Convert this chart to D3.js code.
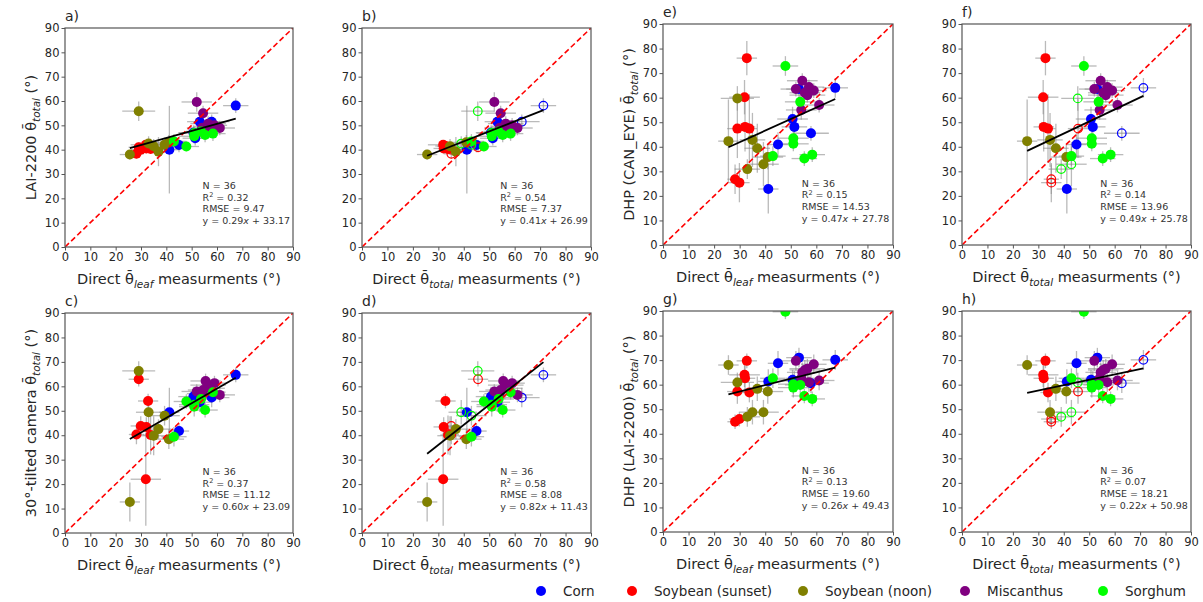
<!DOCTYPE html>
<html>
<head>
<meta charset="utf-8">
<script src="https://cdn.jsdelivr.net/npm/d3@7"></script>
<style>
  body { margin: 0; background: #fff; }
  svg { font-family: "DejaVu Sans", sans-serif; }
</style>
</head>
<body>
<svg width="1203" height="602"></svg>
<script>
// Data

const crops = ['Corn', 'Soybean (sunset)', 'Soybean (noon)', 'Miscanthus', 'Sorghum']
const cropColors = ['#0000ff', '#ff0000', '#808000', '#800080', '#00ff00']
// open (extrapolated) markers of the noon soybean are drawn in green in the original
const openColors = ['#0000ff', '#ff0000', '#00ff00', '#800080', '#00ff00']

// samples: 7 corn, 7 soybean sunset, 7 soybean noon, 8 miscanthus, 7 sorghum
const sampleCrop = [0,0,0,0,0,0,0, 1,1,1,1,1,1,1, 2,2,2,2,2,2,2, 3,3,3,3,3,3,3,3, 4,4,4,4,4,4,4]

const xLeaf = [67.4, 53.2, 50.7, 51.4, 57.9, 45.0, 41.2,
               32.8, 31.9, 29.1, 32.1, 33.8, 28.2, 29.9,
               29.1, 25.6, 35.0, 36.9, 33.0, 39.3, 41.0,
               54.5, 52.0, 57.1, 59.0, 55.5, 56.5, 54.1, 61.1,
               47.9, 53.7, 51.0, 51.0, 43.0, 55.3, 58.4]
const xTotal = [71.3, 53.2, 50.7, 51.4, 62.8, 45.0, 41.2,
                32.8, 31.9, 45.6, 32.1, 33.8, 35.1, 35.1,
                45.5, 25.6, 34.6, 36.9, 39.0, 43.0, 41.0,
                54.5, 52.0, 57.1, 59.0, 55.5, 56.5, 54.1, 61.1,
                47.9, 53.7, 51.0, 51.0, 43.0, 55.3, 58.4]
const openTotal = [1,0,0,0,1,0,0, 0,0,1,0,0,1,1, 1,0,0,0,1,1,0, 0,0,0,0,0,0,0,0, 0,0,0,0,0,0,0]
const xErr = [5, 5, 6, 5, 7, 4, 4,
              4, 6, 4, 4, 3, 3, 4,
              6.5, 4, 5, 5, 5, 6, 6,
              6, 6, 6, 5, 6, 7, 6, 6,
              5, 6, 6, 6, 5, 5, 5]

const yLai = [58.1, 51.5, 47.0, 44.7, 51.5, 41.9, 40.0,
              41.5, 42.0, 41.0, 40.5, 40.3, 38.3, 40.0,
              55.8, 38.0, 41.4, 39.2, 42.5, 42.0, 43.0,
              55.0, 59.6, 49.6, 50.0, 48.2, 50.7, 49.0, 48.9,
              41.3, 47.5, 46.8, 45.5, 43.4, 46.0, 46.6]
const yLaiErr = [3, 3, 3, 3, 3, 3, 18,
                 2, 2, 2, 2, 2, 2, 2,
                 4, 2, 3, 6, 3, 3, 3,
                 3, 4, 3, 3, 3, 3, 3, 3,
                 2, 3, 3, 3, 3, 3, 3]

const yCam = [64.7, 53.5, 55.8, 55.0, 55.4, 41.7, 49.4,
              54.0, 22.0, 62.9, 43.4, 40.1, 40.3, 43.8,
              66.3, 12.7, 39.8, 42.5, 49.4, 48.0, 38.4,
              58.5, 57.9, 59.2, 61.3, 62.2, 60.5, 57.0, 56.5,
              53.8, 54.8, 51.7, 52.5, 39.4, 50.3, 57.6]
const yCamErr = [3, 4, 4, 3, 4, 3, 10,
                 3, 19, 3, 4, 8, 4, 4,
                 4, 8, 8, 4, 5, 4, 4,
                 3, 3, 3, 3, 3, 3, 3, 3,
                 3, 4, 4, 3, 4, 3, 3]

const yCan = [64.0, 63.5, 51.3, 48.1, 45.5, 40.9, 22.8,
              76.1, 60.2, 47.4, 48.1, 47.4, 26.8, 25.4,
              59.7, 42.3, 42.8, 39.4, 30.9, 32.9, 35.8,
              66.9, 63.5, 64.3, 62.9, 62.0, 61.0, 55.0, 57.0,
              72.9, 58.3, 43.5, 41.2, 36.2, 35.2, 36.8]
const yCanErr = [4, 4, 5, 4, 3, 5, 10,
                 7, 7, 12, 10, 14, 6, 8,
                 5, 17, 11, 10, 4, 9, 5,
                 3, 3, 3, 3, 3, 3, 4, 3,
                 4, 3, 3, 3, 4, 3, 3]

const yDhp = [70.1, 71.0, 62.0, 61.5, 60.6, 68.7, 61.3,
              69.7, 64.0, 57.2, 62.6, 56.8, 44.9, 46.0,
              60.9, 68.0, 48.8, 58.3, 46.9, 48.8, 57.2,
              65.0, 69.7, 61.0, 68.3, 66.0, 66.5, 62.6, 61.7,
              89.7, 59.9, 60.2, 58.8, 62.6, 55.4, 54.2]
const yDhpErr = [4, 4, 4, 4, 4, 5, 5,
                 3, 5, 5, 5, 4, 3, 3,
                 4, 4, 5, 5, 4, 5, 5,
                 4, 4, 4, 4, 4, 4, 4, 4,
                 3, 4, 4, 4, 4, 3, 3]

const ticks = [0, 10, 20, 30, 40, 50, 60, 70, 80, 90]

// per panel a..h
const panelLabels = ['a)', 'b)', 'c)', 'd)', 'e)', 'f)', 'g)', 'h)']
const statN = [36, 36, 36, 36, 36, 36, 36, 36]
const statR2 = ['0.32', '0.54', '0.37', '0.58', '0.15', '0.14', '0.13', '0.07']
const statRmse = ['9.47', '7.37', '11.12', '8.08', '14.53', '13.96', '19.60', '18.21']
const slopes = [0.29, 0.41, 0.60, 0.82, 0.47, 0.49, 0.26, 0.22]
const intercepts = [33.17, 26.99, 23.09, 11.43, 27.78, 25.78, 49.43, 50.98]

// Layout

const methods = {
  lai: {y: yLai, err: yLaiErr, label: 'LAI-2200 '},
  cam: {y: yCam, err: yCamErr, label: '30°-tilted camera '},
  can: {y: yCan, err: yCanErr, label: 'DHP (CAN_EYE) '},
  dhp: {y: yDhp, err: yDhpErr, label: 'DHP (LAI-2200) '},
}

const panels = [
  {x: 'leaf',  m: 'lai', left: 65,  top: 28,  w: 228, h: 219, ylab: true},
  {x: 'total', m: 'lai', left: 362, top: 28,  w: 229, h: 219, ylab: false},
  {x: 'leaf',  m: 'cam', left: 65,  top: 313, w: 228, h: 220, ylab: true},
  {x: 'total', m: 'cam', left: 362, top: 313, w: 229, h: 220, ylab: false},
  {x: 'leaf',  m: 'can', left: 663, top: 24,  w: 230, h: 221, ylab: true},
  {x: 'total', m: 'can', left: 962, top: 24,  w: 229, h: 221, ylab: false},
  {x: 'leaf',  m: 'dhp', left: 663, top: 311, w: 230, h: 221, ylab: true},
  {x: 'total', m: 'dhp', left: 962, top: 311, w: 229, h: 221, ylab: false},
]

const textColor = '#262626'
const svg = d3.select('svg')
const defs = svg.append('defs')

function thetaLabel(sel, before, sub, after, size) {
  sel.append('tspan').text(before + 'θ\u0304')
  sel.append('tspan')
      .attr('font-style', 'italic')
      .attr('font-size', size * 0.72)
      .attr('dy', size * 0.25)
      .text(sub)
  sel.append('tspan')
      .attr('dy', -size * 0.25)
      .text(after)
}

panels.forEach((p, i) => {
  const xs = p.x == 'leaf' ? xLeaf : xTotal
  const md = methods[p.m]
  const x = d3.scaleLinear().domain([0, 90]).range([0, p.w])
  const y = d3.scaleLinear().domain([0, 90]).range([p.h, 0])

  const g = svg.append('g')
      .attr('transform', `translate(${p.left}, ${p.top})`)

  defs.append('clipPath')
      .attr('id', 'clip' + i)
    .append('rect')
      .attr('width', p.w)
      .attr('height', p.h)

  // axes
  const xAxis = g.append('g')
      .attr('transform', `translate(0, ${p.h})`)
      .call(d3.axisBottom(x).tickValues(ticks).tickSize(3.5).tickPadding(2).tickSizeOuter(0))
  const yAxis = g.append('g')
      .call(d3.axisLeft(y).tickValues(ticks).tickSize(3.5).tickPadding(2).tickSizeOuter(0))
  ;[xAxis, yAxis].forEach(a => {
    a.select('.domain').remove()
    a.selectAll('line').attr('stroke', '#555').attr('stroke-width', 1)
    a.selectAll('text')
        .attr('font-size', 11.5)
        .attr('font-family', '"DejaVu Sans", sans-serif')
        .attr('fill', textColor)
  })

  const plot = g.append('g').attr('clip-path', `url(#clip${i})`)

  const idx = d3.range(xs.length)

  // error bars
  const eb = plot.append('g')
      .attr('stroke', '#8c8c8c')
      .attr('stroke-opacity', 0.6)
      .attr('stroke-width', 1.3)
  eb.selectAll('line.h').data(idx).join('line')
      .attr('class', 'h')
      .attr('x1', d => x(xs[d] - xErr[d]))
      .attr('x2', d => x(xs[d] + xErr[d]))
      .attr('y1', d => y(md.y[d]))
      .attr('y2', d => y(md.y[d]))
  eb.selectAll('line.v').data(idx).join('line')
      .attr('class', 'v')
      .attr('x1', d => x(xs[d]))
      .attr('x2', d => x(xs[d]))
      .attr('y1', d => y(md.y[d] - md.err[d]))
      .attr('y2', d => y(md.y[d] + md.err[d]))

  // points
  const isOpen = d => p.x == 'total' && openTotal[d]
  plot.append('g').selectAll('circle').data(idx).join('circle')
      .attr('cx', d => x(xs[d]))
      .attr('cy', d => y(md.y[d]))
      .attr('r', d => isOpen(d) ? 4.3 : 5)
      .attr('fill', d => isOpen(d) ? 'none' : cropColors[sampleCrop[d]])
      .attr('stroke', d => isOpen(d) ? openColors[sampleCrop[d]] : 'none')
      .attr('stroke-width', 1.2)

  // 1:1 line
  plot.append('line')
      .attr('x1', x(0)).attr('y1', y(0))
      .attr('x2', x(90)).attr('y2', y(90))
      .attr('stroke', '#ff0000')
      .attr('stroke-width', 1.6)
      .attr('stroke-dasharray', '5.5 3')

  // regression line
  const [x0, x1] = d3.extent(xs)
  plot.append('line')
      .attr('x1', x(x0)).attr('y1', y(slopes[i] * x0 + intercepts[i]))
      .attr('x2', x(x1)).attr('y2', y(slopes[i] * x1 + intercepts[i]))
      .attr('stroke', '#000')
      .attr('stroke-width', 1.8)

  // frame
  g.append('rect')
      .attr('width', p.w)
      .attr('height', p.h)
      .attr('fill', 'none')
      .attr('stroke', '#555')
      .attr('stroke-width', 1.2)

  // stats text
  const st = g.append('text')
      .attr('x', x(54.3))
      .attr('y', y(23.8))
      .attr('font-size', 9.5)
      .attr('fill', '#333')
  st.append('tspan').attr('x', x(54.3)).text('N = ' + statN[i])
  const r2 = st.append('tspan').attr('x', x(54.3)).attr('dy', 11.7)
  r2.append('tspan').text('R')
  r2.append('tspan').attr('font-size', 6.5).attr('dy', -3.5).text('2')
  r2.append('tspan').attr('dy', 3.5).text(' = ' + statR2[i])
  st.append('tspan').attr('x', x(54.3)).attr('dy', 11.7).text('RMSE = ' + statRmse[i])
  const eq = st.append('tspan').attr('x', x(54.3)).attr('dy', 11.7)
  eq.append('tspan').text('y = ' + slopes[i].toFixed(2))
  eq.append('tspan').attr('font-style', 'italic').text('x')
  eq.append('tspan').text(' + ' + intercepts[i].toFixed(2))

  // panel label
  g.append('text')
      .attr('x', 0)
      .attr('y', -7)
      .attr('font-size', 14)
      .attr('fill', textColor)
      .text(panelLabels[i])

  // x label
  const xl = g.append('text')
      .attr('x', p.w / 2)
      .attr('y', p.h + 37)
      .attr('text-anchor', 'middle')
      .attr('font-size', 14.5)
      .attr('fill', textColor)
  thetaLabel(xl, 'Direct ', p.x == 'leaf' ? 'leaf' : 'total', ' measurments (°)', 14.5)

  // y label
  if (p.ylab) {
    const yl = g.append('text')
        .attr('transform', `translate(-29, ${p.h / 2}) rotate(-90)`)
        .attr('text-anchor', 'middle')
        .attr('font-size', 14.5)
        .attr('fill', textColor)
    thetaLabel(yl, md.label, 'total', ' (°)', 14.5)
  }
})

// Legend

const legendX = [541, 632, 803, 965, 1103]
const legend = svg.append('g')
legend.selectAll('circle').data(crops).join('circle')
    .attr('cx', (d, i) => legendX[i])
    .attr('cy', 591)
    .attr('r', 5)
    .attr('fill', (d, i) => cropColors[i])
legend.selectAll('text').data(crops).join('text')
    .attr('x', (d, i) => legendX[i] + 22)
    .attr('y', 596)
    .attr('font-size', 13.5)
    .attr('fill', textColor)
    .text(d => d)
</script>
</body>
</html>
